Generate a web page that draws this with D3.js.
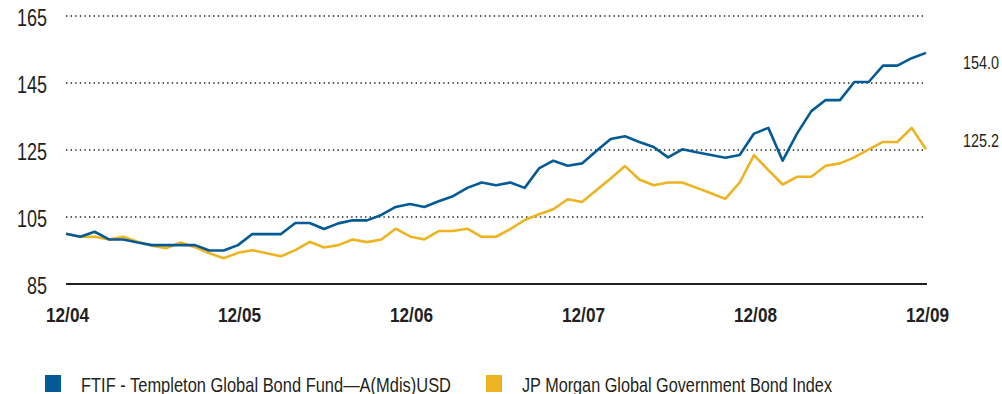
<!DOCTYPE html>
<html>
<head>
<meta charset="utf-8">
<script src="https://cdn.jsdelivr.net/npm/d3@7/dist/d3.min.js"></script>
<style>
  html, body { margin: 0; padding: 0; background: #fff; }
  svg { display: block; }
  text { font-family: "Liberation Sans", Arial, sans-serif; fill: #231f20; }
</style>
</head>
<body>
<svg id="chart" width="1002" height="394"></svg>
<script>
// Growth of 100 USD, monthly, Dec 2004 – Dec 2009
const fundName = "FTIF - Templeton Global Bond Fund\u2014A(Mdis)USD";
const indexName = "JP Morgan Global Government Bond Index";

const fundValues = [
  100.0, 99.1, 100.6, 98.3, 98.3, 97.4, 96.6, 96.6, 96.6, 96.6, 95.0, 95.0,
  96.6, 99.9, 99.9, 99.9, 103.2, 103.2, 101.4, 103.1, 104.0, 104.0, 105.6, 108.0,
  108.9, 108.0, 109.7, 111.2, 113.7, 115.3, 114.5, 115.3, 113.7, 119.5, 121.8, 120.3,
  121.0, 124.7, 128.3, 129.1, 127.4, 125.9, 122.8, 125.2, 124.3, 123.5, 122.7, 123.5,
  129.9, 131.6, 121.8, 129.9, 136.6, 139.9, 139.9, 145.3, 145.3, 150.2, 150.2, 152.4,
  154.0
];

const indexValues = [
  100.0, 99.1, 99.1, 98.3, 99.1, 97.6, 96.4, 95.7, 97.4, 96.0, 94.2, 92.7,
  94.3, 95.1, 94.2, 93.3, 95.1, 97.6, 95.9, 96.6, 98.3, 97.5, 98.3, 101.5,
  99.2, 98.3, 100.8, 100.8, 101.5, 99.1, 99.1, 101.4, 104.1, 105.8, 107.3, 110.3,
  109.5, 113.0, 116.5, 120.2, 116.2, 114.5, 115.3, 115.3, 113.7, 112.1, 110.4, 115.3,
  123.5, 119.0, 114.7, 117.0, 117.0, 120.3, 121.0, 122.8, 125.2, 127.4, 127.4, 131.6,
  125.2
];

const yTicks = [85, 105, 125, 145, 165];
const xTickMonths = [0, 12, 24, 36, 48, 60];
const xTickLabels = ["12/04", "12/05", "12/06", "12/07", "12/08", "12/09"];
const endLabels = ["154.0", "125.2"];

const colors = { fund: "#045a95", index: "#eeb321" };

const svg = d3.select("#chart");
const x = d3.scaleLinear().domain([0, 60]).range([66, 926]);
const y = d3.scaleLinear().domain([85, 165]).range([284, 16]);

// squeeze text into a condensed look
function condense(sel, widthOf) {
  sel.attr("textLength", widthOf).attr("lengthAdjust", "spacingAndGlyphs");
}

// dotted horizontal gridlines
svg.append("g")
  .selectAll("line")
  .data(yTicks.filter(v => v > 85))
  .join("line")
  .attr("x1", x(0)).attr("x2", x(60))
  .attr("y1", d => y(d)).attr("y2", d => y(d))
  .attr("stroke", "#231f20")
  .attr("stroke-width", 1.6)
  .attr("stroke-dasharray", "1.4 3.2");

// baseline
svg.append("line")
  .attr("x1", x(0)).attr("x2", x(60) + 1)
  .attr("y1", y(85)).attr("y2", y(85))
  .attr("stroke", "#231f20").attr("stroke-width", 2.2);

// y axis labels
const yAxis = d3.axisLeft(y).tickValues(yTicks).tickSize(0).tickPadding(0);
const gy = svg.append("g").attr("transform", "translate(47,0)").call(yAxis);
gy.select(".domain").remove();
gy.selectAll("text")
  .attr("font-size", 23)
  .attr("dy", "0.42em")
  .attr("font-family", null)
  .attr("fill", null)
  .call(condense, d => String(d).length * 10);

// x axis labels
const xAxis = d3.axisBottom(x).tickValues(xTickMonths)
  .tickFormat((d, i) => xTickLabels[i]).tickSize(0).tickPadding(0);
const gx = svg.append("g").attr("transform", "translate(1,307)").call(xAxis);
gx.select(".domain").remove();
gx.selectAll("text")
  .attr("font-size", 20.5)
  .attr("font-weight", "bold")
  .attr("dy", "0.75em")
  .attr("font-family", null)
  .attr("fill", null)
  .call(condense, 43);

// series lines
const line = d3.line().x((d, i) => x(i)).y(d => y(d));
svg.append("path").datum(indexValues)
  .attr("fill", "none").attr("stroke", colors.index)
  .attr("stroke-width", 2.6).attr("stroke-linejoin", "round")
  .attr("d", line);
svg.append("path").datum(fundValues)
  .attr("fill", "none").attr("stroke", colors.fund)
  .attr("stroke-width", 2.6).attr("stroke-linejoin", "round")
  .attr("d", line);

// end-of-period values
const endVals = [fundValues[60], indexValues[60]];
const endOffsets = [16, -2.5];
svg.append("g").selectAll("text")
  .data(endLabels)
  .join("text")
  .attr("x", 963)
  .attr("y", (d, i) => y(endVals[i]) + endOffsets[i])
  .attr("font-size", 18.5)
  .text(d => d)
  .call(condense, 36);

// legend
const legend = [
  { name: fundName, color: colors.fund, x: 45, w: 370 },
  { name: indexName, color: colors.index, x: 486, w: 310 }
];
const lg = svg.append("g").selectAll("g").data(legend).join("g")
  .attr("transform", d => `translate(${d.x},375)`);
lg.append("rect").attr("width", 16).attr("height", 17).attr("fill", d => d.color);
lg.append("text").attr("x", 36).attr("y", 16.5)
  .attr("font-size", 21)
  .text(d => d.name)
  .call(condense, d => d.w);
</script>
</body>
</html>
